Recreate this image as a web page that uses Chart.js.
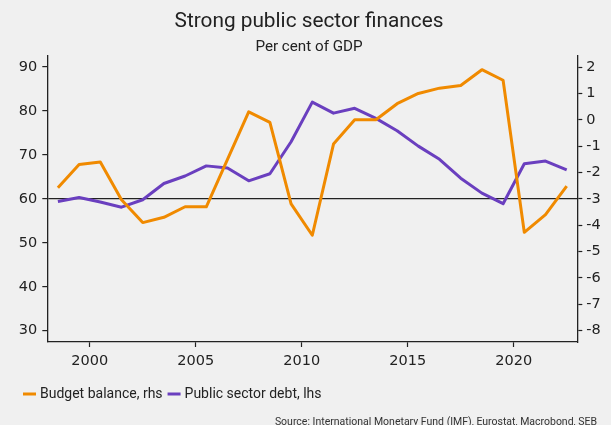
<!DOCTYPE html>
<html>
<head>
<meta charset="utf-8">
<script src="https://cdn.jsdelivr.net/npm/chart.js@4"></script>
<style>
  html, body { margin: 0; padding: 0; background: #f0f0f0; }
  #wrap { width: 611px; height: 425px; position: relative; }
</style>
</head>
<body>
<div id="wrap"><canvas id="c" width="611" height="425"></canvas></div>
<script>
// Annual observations, plotted at mid-year
const years = [1998, 1999, 2000, 2001, 2002, 2003, 2004, 2005, 2006, 2007, 2008, 2009, 2010,
               2011, 2012, 2013, 2014, 2015, 2016, 2017, 2018, 2019, 2020, 2021, 2022];

// Budget balance, % of GDP (right axis)
const budgetBalance = [-2.58, -1.70, -1.60, -3.03, -3.90, -3.70, -3.30, -3.30, -1.50, 0.30, -0.10, -3.19, -4.38,
                       -0.92, 0.00, 0.00, 0.61, 1.00, 1.20, 1.30, 1.90, 1.50, -4.27, -3.60, -2.52];

// Public sector debt, % of GDP (left axis)
const publicDebt = [59.4, 60.3, 59.3, 58.1, 59.8, 63.5, 65.2, 67.5, 67.0, 64.1, 65.7, 73.0, 82.0,
                    79.5, 80.6, 78.3, 75.5, 72.0, 69.0, 64.7, 61.3, 58.9, 68.0, 68.6, 66.6];

const leftTicks = [30, 40, 50, 60, 70, 80, 90];
const rightTicks = [-8, -7, -6, -5, -4, -3, -2, -1, 0, 1, 2];
const yearTicks = [2000, 2005, 2010, 2015, 2020];

const TITLE = 'Strong public sector finances';
const SUBTITLE = 'Per cent of GDP';
const SOURCE = 'Source: International Monetary Fund (IMF), Eurostat, Macrobond, SEB';

const ORANGE = '#f08a00';
const PURPLE = '#6a3fbf';
const INK = '#222222';
const AXIS_FONT = { family: 'DejaVu Sans', size: 14.5 };

const toPoints = vals => vals.map((v, i) => ({ x: years[i] + 0.5, y: v }));

// Title, subtitle, legend and source line drawn around the plot
const decorations = {
  id: 'decorations',
  afterDraw(chart) {
    const ctx = chart.ctx;
    ctx.save();
    ctx.fillStyle = INK;
    ctx.textAlign = 'center';
    ctx.textBaseline = 'middle';
    ctx.font = '20.8px Roboto';
    ctx.fillText(TITLE, 309, 22);
    ctx.font = '15.2px Roboto';
    ctx.fillText(SUBTITLE, 309, 47);

    // legend
    ctx.textAlign = 'left';
    ctx.font = '14px Roboto';
    let x = 23;
    const ly = 394;
    chart.data.datasets.forEach(ds => {
      ctx.strokeStyle = ds.borderColor;
      ctx.lineWidth = 3;
      ctx.beginPath();
      ctx.moveTo(x, ly);
      ctx.lineTo(x + 13, ly);
      ctx.stroke();
      ctx.fillStyle = INK;
      ctx.fillText(ds.label, x + 17, ly);
      x += 17 + ctx.measureText(ds.label).width + 5;
    });

    // source
    ctx.font = '10.5px Roboto';
    ctx.textAlign = 'right';
    ctx.textBaseline = 'alphabetic';
    ctx.fillStyle = '#333';
    ctx.fillText(SOURCE, 597, 425);
    ctx.restore();
  }
};

new Chart(document.getElementById('c'), {
  type: 'line',
  data: {
    datasets: [
      {
        label: 'Budget balance, rhs',
        data: toPoints(budgetBalance),
        yAxisID: 'y1',
        borderColor: ORANGE,
        borderWidth: 3,
        pointRadius: 0,
        tension: 0,
        borderJoinStyle: 'round'
      },
      {
        label: 'Public sector debt, lhs',
        data: toPoints(publicDebt),
        yAxisID: 'y',
        borderColor: PURPLE,
        borderWidth: 3,
        pointRadius: 0,
        tension: 0,
        borderJoinStyle: 'round'
      }
    ]
  },
  options: {
    responsive: false,
    animation: false,
    layout: { padding: { top: 56, bottom: 59, left: 0, right: 0 } },
    plugins: {
      legend: { display: false },
      tooltip: { enabled: false },
      title: { display: false }
    },
    scales: {
      x: {
        type: 'linear',
        min: 1998,
        max: 2023,
        afterBuildTicks: axis => { axis.ticks = yearTicks.map(v => ({ value: v })); },
        afterFit: axis => { axis.height = 24; },
        ticks: {
          color: INK,
          font: AXIS_FONT,
          padding: 6,
          maxRotation: 0,
          callback: v => String(v)
        },
        grid: { drawOnChartArea: false, tickLength: 5, tickColor: INK, tickWidth: 1.2 },
        border: { display: true, color: INK, width: 1.3 }
      },
      y: {
        position: 'left',
        min: 27.43,
        max: 92.5,
        afterBuildTicks: axis => { axis.ticks = leftTicks.map(v => ({ value: v })); },
        afterFit: axis => { axis.width = 47.3; },
        ticks: { color: INK, font: AXIS_FONT, padding: 5 },
        grid: {
          drawOnChartArea: true,
          color: c => (c.tick && c.tick.value === 60 ? INK : 'rgba(0,0,0,0)'),
          lineWidth: 1.2,
          tickLength: 5,
          tickColor: INK,
          tickWidth: 1.2
        },
        border: { display: true, color: INK, width: 1.3 }
      },
      y1: {
        position: 'right',
        min: -8.43,
        max: 2.42,
        afterBuildTicks: axis => { axis.ticks = rightTicks.map(v => ({ value: v })); },
        afterFit: axis => { axis.width = 33.7; },
        ticks: { color: INK, font: AXIS_FONT, padding: 4 },
        grid: { drawOnChartArea: false, tickLength: 5, tickColor: INK, tickWidth: 1.2 },
        border: { display: true, color: INK, width: 1.3 }
      }
    }
  },
  plugins: [decorations]
});
</script>
</body>
</html>
